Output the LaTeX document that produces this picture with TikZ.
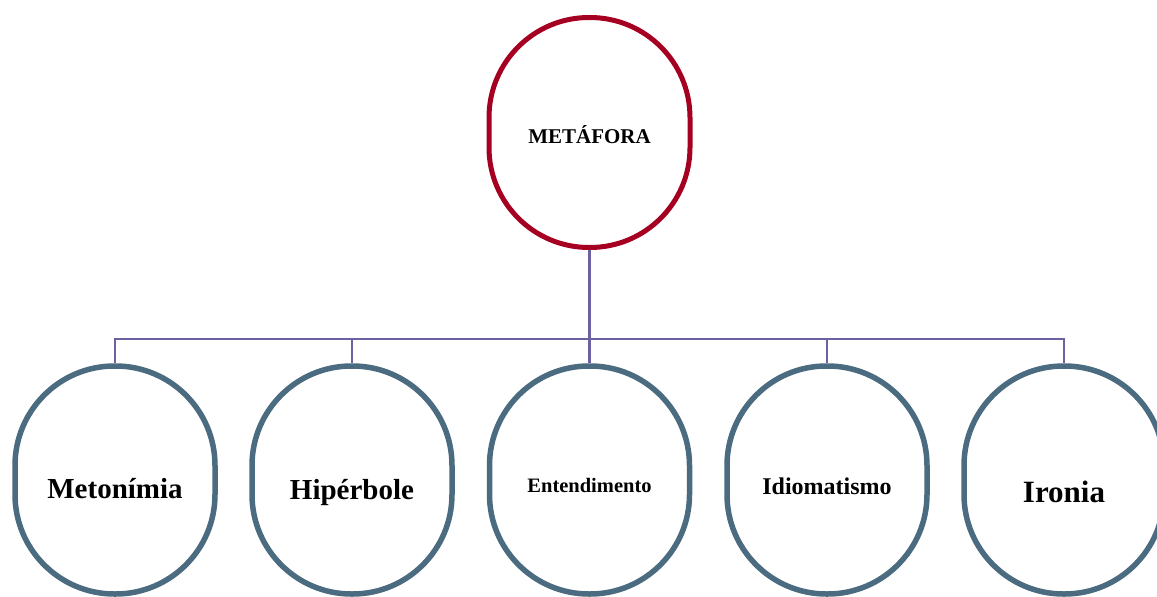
\documentclass[tikz,border=0pt]{standalone}
\usepackage{fontspec}
\setmainfont{Liberation Serif}
\usetikzlibrary{calc}
\definecolor{rootred}{RGB}{165,0,33}
\definecolor{leafslate}{RGB}{75,107,128}
\definecolor{linkpurple}{RGB}{108,98,162}
\begin{document}
\begin{tikzpicture}[x=1pt,y=-1pt,
  rootbox/.style={draw=rootred, line width=5pt, fill=white, rounded corners=100pt,
    minimum width=201pt, minimum height=230pt, inner sep=0pt, font=\bfseries},
  leafbox/.style={draw=leafslate, line width=5.5pt, fill=white, rounded corners=99.5pt,
    minimum width=200pt, minimum height=228pt, inner sep=0pt, font=\bfseries},
  link/.style={draw=linkpurple, line width=2.1pt},
  drop/.style={text height=#1, text depth=0pt}
]
\useasboundingbox (0,0) rectangle (1157,597);

\node[rootbox, drop=21pt, font=\bfseries\fontsize{21}{24}\selectfont] (root) at (589.5,132.5) {METÁFORA};

\coordinate (bus) at (0,339);

\node[leafbox, drop=36pt, font=\bfseries\fontsize{29}{33}\selectfont] (meto)  at (115,480) {Metonímia};
\node[leafbox, drop=38pt, font=\bfseries\fontsize{29}{33}\selectfont] (hiper) at (352,480) {Hipérbole};
\node[leafbox, drop=24pt, font=\bfseries\fontsize{20.5}{24}\selectfont] (enten) at (589.5,480) {Entendimento};
\node[leafbox, drop=28pt, font=\bfseries\fontsize{24}{28}\selectfont] (idio)  at (827,480) {Idiomatismo};
\node[leafbox, drop=44pt, font=\bfseries\fontsize{31}{36}\selectfont] (iron)  at (1064,480) {Ironia};

\foreach \leaf in {meto,hiper,enten,idio,iron}
  \draw[link] (root.south) -- (root.south |- bus) -| (\leaf.north);
\end{tikzpicture}
\end{document}
